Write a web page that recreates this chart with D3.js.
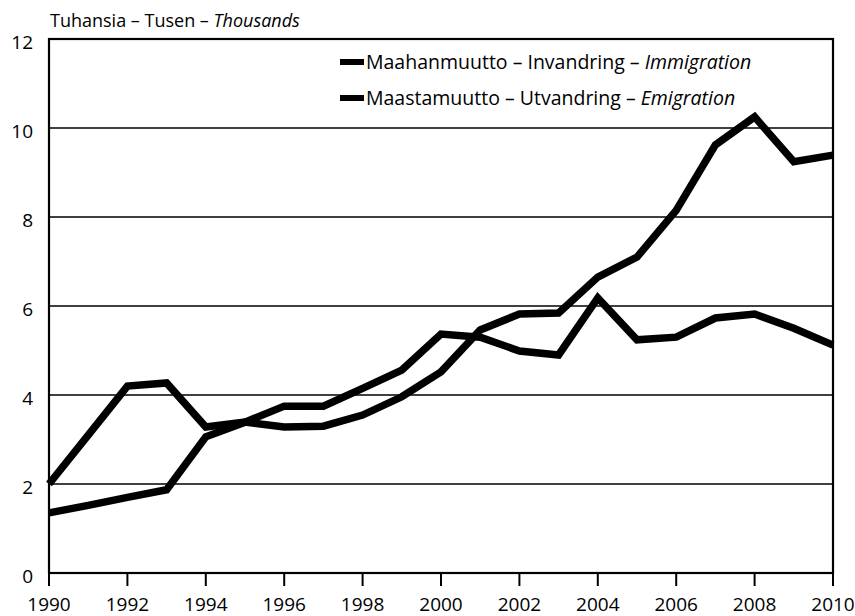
<!DOCTYPE html>
<html>
<head>
<meta charset="utf-8">
<script src="https://cdn.jsdelivr.net/npm/d3@7"></script>
<style>
  body { margin: 0; background: #fff; }
  text { font-family: "Open Sans", sans-serif; fill: #000; }
</style>
</head>
<body>
<div id="chart"></div>
<script>
// Data (thousands)
const years = d3.range(1990, 2011);
const immigration = [2.0, 3.1, 4.2, 4.27, 3.28, 3.39, 3.28, 3.3, 3.55, 3.96, 4.52,
                     5.46, 5.82, 5.84, 6.65, 7.1, 8.15, 9.62, 10.25, 9.24, 9.39];
const emigration  = [1.35, 1.52, 1.7, 1.87, 3.06, 3.39, 3.75, 3.75, 4.15, 4.56, 5.37,
                     5.3, 4.99, 4.9, 6.18, 5.24, 5.3, 5.73, 5.82, 5.5, 5.12];
const yTicks = [0, 2, 4, 6, 8, 10, 12];
const xTicks = d3.range(1990, 2011, 2);
const seriesNames = [
  ["Maahanmuutto \u2013 Invandring \u2013 ", "Immigration"],
  ["Maastamuutto \u2013 Utvandring \u2013 ", "Emigration"]
];

const width = 855, height = 616;
const margin = { left: 49, right: 22, top: 39, bottom: 43 };

const svg = d3.select("#chart").append("svg")
    .attr("width", width)
    .attr("height", height);

const x = d3.scaleLinear()
    .domain([1990, 2010])
    .range([margin.left, width - margin.right]);

const y = d3.scaleLinear()
    .domain([0, 12])
    .range([height - margin.bottom, margin.top]);

// Gridlines
svg.append("g")
  .selectAll("line")
  .data(yTicks.filter(d => d > 0 && d < 12))
  .enter().append("line")
    .attr("x1", x(1990)).attr("x2", x(2010))
    .attr("y1", d => y(d)).attr("y2", d => y(d))
    .style("stroke", "#000")
    .style("stroke-width", 1.5);

// Frame
svg.append("rect")
    .attr("x", x(1990)).attr("y", y(12))
    .attr("width", x(2010) - x(1990))
    .attr("height", y(0) - y(12))
    .style("fill", "none")
    .style("stroke", "#000")
    .style("stroke-width", 2.2);

// Y labels
svg.append("g")
  .selectAll("text")
  .data(yTicks)
  .enter().append("text")
    .attr("x", 33)
    .attr("y", d => y(d) + 10)
    .attr("text-anchor", "end")
    .style("font-size", "19px")
    .text(d => d);

// X ticks and labels
const xAxis = svg.append("g");
xAxis.selectAll("line")
  .data(xTicks)
  .enter().append("line")
    .attr("x1", d => x(d)).attr("x2", d => x(d))
    .attr("y1", y(0)).attr("y2", y(0) + 13)
    .style("stroke", "#000")
    .style("stroke-width", 2);
xAxis.selectAll("text")
  .data(xTicks)
  .enter().append("text")
    .attr("x", d => x(d))
    .attr("y", 611)
    .attr("text-anchor", "middle")
    .style("font-size", "19px")
    .text(d => d);

// Unit title
const title = svg.append("text")
    .attr("x", 50)
    .attr("y", 27)
    .style("font-size", "18px");
title.append("tspan").text("Tuhansia \u2013 Tusen \u2013 ");
title.append("tspan").style("font-style", "italic").text("Thousands");

// Lines
const line = d3.line()
    .x((d, i) => x(years[i]))
    .y(d => y(d));

[immigration, emigration].forEach(values => {
  svg.append("path")
      .datum(values)
      .attr("d", line)
      .style("fill", "none")
      .style("stroke", "#000")
      .style("stroke-width", 7.5)
      .style("stroke-linejoin", "miter");
});

// Legend
const legend = svg.append("g");
seriesNames.forEach((name, i) => {
  const ly = 62 + i * 36;
  legend.append("line")
      .attr("x1", 340).attr("x2", 364)
      .attr("y1", ly).attr("y2", ly)
      .style("stroke", "#000")
      .style("stroke-width", 6);
  const t = legend.append("text")
      .attr("x", 366)
      .attr("y", ly + 7)
      .style("font-size", "19.5px");
  t.append("tspan").text(name[0]);
  t.append("tspan").style("font-style", "italic").text(name[1]);
});
</script>
</body>
</html>
